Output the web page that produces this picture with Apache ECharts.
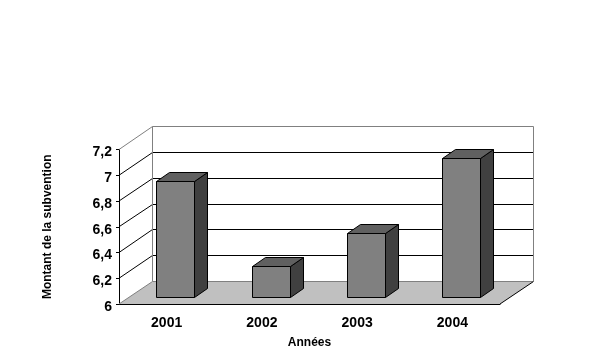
<!DOCTYPE html>
<html>
<head>
<meta charset="utf-8">
<style>
  html, body { margin: 0; padding: 0; background: #fff; }
  #main { width: 590px; height: 360px; }
</style>
<script src="https://cdn.jsdelivr.net/npm/echarts@6/dist/echarts.min.js"></script>
</head>
<body>
<div id="main"></div>
<script>
var years = ['2001', '2002', '2003', '2004'];
var amounts = [6.9, 6.24, 6.5, 7.08];
var tickValues = [6, 6.2, 6.4, 6.6, 6.8, 7, 7.2];
var yTitle = 'Montant de la subvention';
var xTitle = 'Années';

// fake 3d depth, in pixels
var DEPTH_X = 33, DEPTH_Y = -23.2;
var BAR_DX = 8.8, BAR_DY = -7, BAR_DEPTH_X = 13, BAR_DEPTH_Y = -9;
var FONT = '"Liberation Sans", Arial, sans-serif';

function crisp(v) { return Math.round(v) + 0.5; }

function line(x1, y1, x2, y2, color) {
    return {
        type: 'line',
        shape: { x1: x1, y1: y1, x2: x2, y2: y2 },
        style: { stroke: color, lineWidth: 1, fill: null }
    };
}

function poly(points, fill) {
    return {
        type: 'polygon',
        shape: { points: points },
        style: { fill: fill, stroke: '#000', lineWidth: 1 }
    };
}

// back wall, floor and side wall: one item per y tick
function renderWall(params, api) {
    var sys = params.coordSys;
    var left = sys.x, right = sys.x + sys.width;
    var v = api.value(0);
    var y = api.coord([0, v])[1];
    var backY = crisp(y + DEPTH_Y);
    var backL = crisp(left + DEPTH_X), backR = crisp(right + DEPTH_X);
    var kids = [];
    if (v === tickValues[0]) {
        kids.push({
            type: 'polygon',
            shape: { points: [[left, y], [right, y], [backR, backY], [backL, backY]] },
            style: { fill: '#c0c0c0' }
        });
        kids.push(line(backL, backY, backR, backY, '#808080'));
        kids.push(line(right, y, backR, backY, '#000'));
        kids.push(line(left, y, backL, backY, '#808080'));
    } else if (v === tickValues[tickValues.length - 1]) {
        kids.push(line(backL, backY, backR, backY, '#808080'));
        kids.push(line(left, y, backL, backY, '#808080'));
        var floorY = crisp(api.coord([0, tickValues[0]])[1] + DEPTH_Y);
        kids.push(line(backL, backY, backL, floorY, '#808080'));
        kids.push(line(backR, backY, backR, floorY, '#808080'));
    } else {
        kids.push(line(backL, backY, backR, backY, '#000'));
        kids.push(line(left, y, backL, backY, '#000'));
    }
    return { type: 'group', silent: true, children: kids };
}

function renderBar(params, api) {
    var top = api.coord([api.value(0), api.value(1)]);
    var base = api.coord([api.value(0), tickValues[0]]);
    var w = api.size([1, 0])[0] * 0.4;
    var x1 = crisp(top[0] + BAR_DX - w / 2), x2 = crisp(top[0] + BAR_DX + w / 2);
    var yt = crisp(top[1] + BAR_DY), yb = crisp(base[1] + BAR_DY);
    var bx = BAR_DEPTH_X, by = BAR_DEPTH_Y;
    return {
        type: 'group',
        children: [
            poly([[x2, yt], [x2 + bx, yt + by], [x2 + bx, yb + by], [x2, yb]], '#404040'),
            poly([[x1, yt], [x1 + bx, yt + by], [x2 + bx, yt + by], [x2, yt]], '#606060'),
            poly([[x1, yt], [x2, yt], [x2, yb], [x1, yb]], '#808080')
        ]
    };
}

var myChart = echarts.init(document.getElementById('main'), null, { renderer: 'canvas' });
myChart.setOption({
    backgroundColor: '#fff',
    animation: false,
    grid: { left: 119, right: 90, top: 149.5, bottom: 56 },
    xAxis: {
        type: 'category',
        data: years,
        name: xTitle,
        nameLocation: 'middle',
        nameGap: 33,
        nameTextStyle: { color: '#000', fontFamily: FONT, fontWeight: 'bold', fontSize: 12 },
        axisLine: { lineStyle: { color: '#000' } },
        axisTick: { alignWithLabel: false, length: 4, lineStyle: { color: '#000' } },
        axisLabel: { color: '#000', fontFamily: FONT, fontWeight: 'bold', fontSize: 14, margin: 12 }
    },
    yAxis: {
        type: 'value',
        min: tickValues[0],
        max: tickValues[tickValues.length - 1],
        interval: 0.2,
        name: yTitle,
        nameLocation: 'middle',
        nameGap: 65,
        nameTextStyle: { color: '#000', fontFamily: FONT, fontWeight: 'bold', fontSize: 12 },
        splitLine: { show: false },
        axisLine: { show: true, lineStyle: { color: '#000' } },
        axisTick: { show: true, length: 3, lineStyle: { color: '#000' } },
        axisLabel: {
            color: '#000', fontFamily: FONT, fontWeight: 'bold', fontSize: 14, margin: 7,
            verticalAlign: 'top', lineHeight: 6,
            formatter: function (v) { return String(+v.toFixed(1)).replace('.', ','); }
        }
    },
    series: [{
        type: 'custom',
        name: 'murs',
        coordinateSystem: 'cartesian2d',
        renderItem: renderWall,
        data: tickValues.map(function (v) { return [v]; }),
        encode: { y: 0 },
        clip: false,
        silent: true,
        z: 1
    }, {
        type: 'custom',
        name: 'subvention',
        coordinateSystem: 'cartesian2d',
        renderItem: renderBar,
        data: years.map(function (y, i) { return [i, amounts[i]]; }),
        encode: { x: 0, y: 1 },
        clip: false,
        z: 2
    }]
});
</script>
</body>
</html>
